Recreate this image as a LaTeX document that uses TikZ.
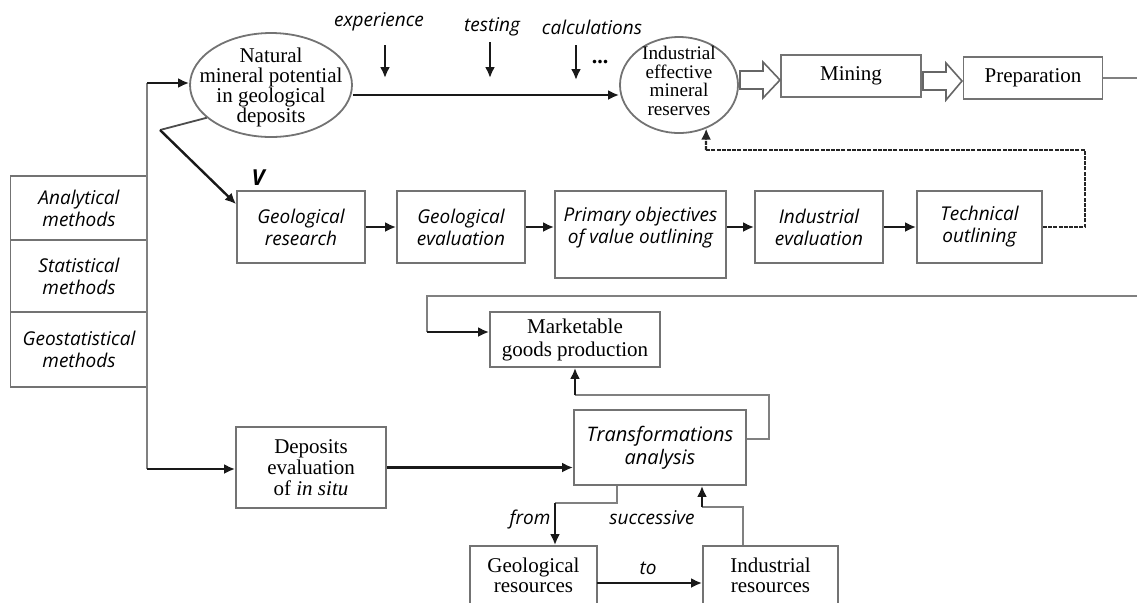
\documentclass[tikz,border=0pt]{standalone}
\usepackage{fontspec}
\setmainfont{Liberation Serif}
\newfontfamily\itsans{Open Sans}
\usetikzlibrary{arrows.meta,shapes.geometric,calc}
\tikzset{
  x=0.5pt,y=-0.5pt,
  rm/.style={font=\fontsize{10.5}{11}\selectfont},
  it/.style={font=\itsans\itshape\fontsize{9.5}{11}\selectfont},
  box/.style={draw=black!55, line width=0.9pt, align=center, inner sep=0pt},
  arr/.style={draw=black!90, line width=1.2pt, -{Latex[length=5.5pt,width=5pt]}},
  ln/.style={draw=black!50, line width=0.9pt},
  dln/.style={draw=black!85, line width=1.1pt, dash pattern=on 2pt off 0.6pt},
  hollow/.style={draw=black!60, line width=0.8pt, fill=white, line join=miter},
}
\begin{document}
\begin{tikzpicture}
\useasboundingbox (0,0) rectangle (1137,602);
% top ellipse and circle
\node[box, ellipse, minimum width=81pt, minimum height=52pt] (ell) at (271,85) {};
\node[align=center, inner sep=0pt, font=\fontsize{10.5}{10}\selectfont] (ellt) at (271,87) {Natural\\mineral potential\\in geological\\deposits};
\node[box, ellipse, minimum width=59pt, minimum height=48pt] (circ) at (679,85) {};
\node[align=center, inner sep=0pt, font=\fontsize{9.6}{9.4}\selectfont] (circt) at (679,81) {Industrial\\effective\\mineral\\reserves};
\node[box, minimum width=70pt, minimum height=21pt, rm] (mining) at (851,76) {Mining};
\node[box, minimum width=69.5pt, minimum height=21pt, rm] (prep) at (1033,78) {Preparation};
% labels on top
\node[it] (lexp) at (379,22) {experience};
\node[it] (ltest) at (492,27) {testing};
\node[it] (lcalc) at (592,27) {calculations};
\node[rm, font=\bfseries\fontsize{11}{11}\selectfont] (dots) at (600,62) {...};
\coordinate (e1) at (385,45); \coordinate (e2) at (385,78);
\coordinate (t1) at (490,42); \coordinate (t2) at (490,78);
\coordinate (c1) at (576,45); \coordinate (c2) at (576,80);
\draw[arr] (e1) -- (e2);
\draw[arr] (t1) -- (t2);
\draw[arr] (c1) -- (c2);
\draw[arr] (ell.east |- 0,95) -- (circ.west |- 0,95);
% hollow block arrows
\draw[hollow] (740,71) -- (763,71) -- (763,62) -- (780,80) -- (763,98) -- (763,89) -- (740,89) -- cycle;
\draw[hollow] (923,72) -- (946,72) -- (946,63) -- (962,81) -- (946,100) -- (946,90) -- (923,90) -- cycle;
\coordinate (pend) at (1137,78);
\draw[ln] (prep.east) -- (pend);
% methods
\node[box, minimum width=68.5pt, minimum height=32pt, it] (ana) at (79,208) {Analytical\\methods};
\node[box, minimum width=68.5pt, minimum height=36pt, it] (sta) at (79,276) {Statistical\\methods};
\node[box, minimum width=68.5pt, minimum height=37.5pt, it] (geo) at (79,349.5) {Geostatistical\\methods};
% left vertical
\coordinate (vtop) at (147,83);
\coordinate (vbot) at (147,469);
\draw[ln] (vtop) -- (vbot);
\draw[arr] (vtop) -- (vtop -| ell.west);
% second row
\node[box, minimum width=64pt, minimum height=36pt, it] (gr) at (301,227) {Geological\\research};
\node[box, minimum width=64pt, minimum height=36pt, it] (ge) at (461,227) {Geological\\evaluation};
\node[box, minimum width=85.5pt, minimum height=43.5pt] (po) at (640.5,234.5) {};
\node[it, align=center] (pot) at (640.5,228) {Primary objectives\\of value outlining};
\node[box, minimum width=64pt, minimum height=36pt, it] (ie) at (819,227) {Industrial\\evaluation};
\node[box, minimum width=62.5pt, minimum height=36pt, it] (tech) at (979.5,227) {Technical\\outlining};
\node[it, font=\itsans\itshape\bfseries\fontsize{11}{11}\selectfont] (vv) at (258,178) {V};
\coordinate (b1) at (160,130);
\draw[ln, draw=black!70] (ell.207) -- (b1);
\draw[arr] (b1) -- ($(gr.north west)+(0,14)$);
\draw[arr] (gr.east) -- (ge.west);
\draw[arr] (ge.east) -- (ge.east -| po.west);
\draw[arr] (ie.west -| po.east) -- (ie.west);
\draw[arr] (ie.east) -- (tech.west);
\coordinate (d1) at (1085,227);
\coordinate (d2) at (706,150);
\draw[dln] (tech.east) -- (d1) |- (d2);
\draw[dln, -{Latex[length=5.5pt,width=5pt]}] (d2) -- (circ.302);
% long line to marketable
\node[box, minimum width=85pt, minimum height=27.5pt, rm, font=\fontsize{10.5}{11.5}\selectfont] (mk) at (575,339.5) {Marketable\\goods production};
\coordinate (r1) at (1137,296);
\coordinate (r2) at (427,296);
\coordinate (r3) at (427,332);
\draw[ln] (r1) -- (r2) -- (r3);
\draw[arr] (r3) -- (r3 -| mk.west);
% lower part
\node[box, minimum width=86pt, minimum height=37.5pt, it, font=\itsans\itshape\fontsize{10}{11.5}\selectfont] (ta) at (660,447.5) {Transformations\\analysis};
\node[box, minimum width=75pt, minimum height=40.5pt, rm, font=\fontsize{10.5}{10.5}\selectfont] (de) at (311,467.5) {Deposits\\evaluation\\of \textit{in situ}};
\draw[arr] (vbot) -- (vbot -| de.west);
\draw[arr] (de.east) -- (de.east -| ta.west);
\coordinate (m1) at (769,439);
\coordinate (m2) at (575,395);
\draw[ln] (m1 -| ta.east) -- (m1) |- (m2);
\draw[arr] (m2) -- (mk.south);
\node[box, minimum width=63.5pt, minimum height=29pt, rm, font=\fontsize{10.5}{10}\selectfont] (gres) at (533.5,575) {Geological\\resources};
\node[box, minimum width=67.5pt, minimum height=29pt, rm, font=\fontsize{10.5}{10}\selectfont] (ires) at (770.5,575) {Industrial\\resources};
\coordinate (f1) at (617,503);
\coordinate (f2) at (555,503);
\draw[ln] (f1 |- ta.south) -- (f1) -- (f2);
\draw[arr] (f2) -- (f2 |- gres.north);
\coordinate (g1) at (597,583);
\draw[arr] (g1) -- (g1 -| ires.west);
\coordinate (s1) at (743,507);
\coordinate (s2) at (702,507);
\draw[ln] (s1 |- ires.north) -- (s1) -- (s2);
\draw[arr] (s2) -- (s2 |- ta.south);
\node[it] (lfrom) at (530,520) {from};
\node[it] (lsucc) at (652,518) {successive};
\node[it] (lto) at (648,568) {to};
\end{tikzpicture}
\end{document}
